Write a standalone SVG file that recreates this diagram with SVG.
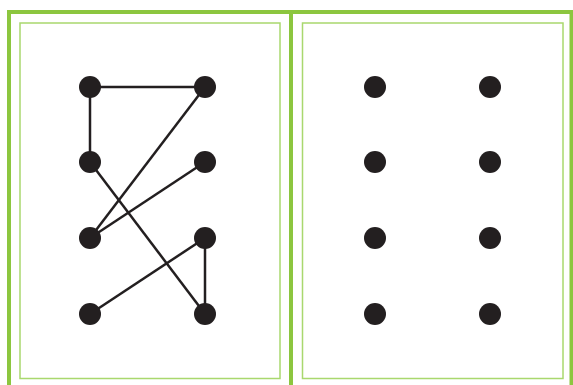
<svg xmlns="http://www.w3.org/2000/svg" width="573" height="385" viewBox="0 0 573 385">
<style>
.frame{fill:none;stroke:#8cc63f;stroke-width:4}
.inner{fill:none;stroke:#a9d86e;stroke-width:1.5}
.dot{fill:#231f20}
.edge{stroke:#231f20;stroke-width:2.5;fill:none}
</style>
<rect x="0" y="0" width="573" height="385" fill="#fff"/>
<g id="frames">
<path class="frame" d="M9 385 V12 H571.5 V385 M291 12 V385"/>
<rect class="inner" x="20" y="23" width="260" height="355.5"/>
<rect class="inner" x="302.5" y="23" width="260.5" height="355.5"/>
</g>
<g id="connectors">
<line class="edge" x1="90" y1="87" x2="205" y2="87"/>
<line class="edge" x1="90" y1="87" x2="90" y2="162"/>
<line class="edge" x1="205" y1="87" x2="90" y2="238"/>
<line class="edge" x1="90" y1="162" x2="205" y2="314"/>
<line class="edge" x1="205" y1="162" x2="90" y2="238"/>
<line class="edge" x1="205" y1="238" x2="90" y2="314"/>
<line class="edge" x1="205" y1="238" x2="205" y2="314"/>
</g>
<g id="left-dots">
<circle id="a1" class="dot" cx="90" cy="87" r="11"/>
<circle id="a2" class="dot" cx="205" cy="87" r="11"/>
<circle id="a3" class="dot" cx="90" cy="162" r="11"/>
<circle id="a4" class="dot" cx="205" cy="162" r="11"/>
<circle id="a5" class="dot" cx="90" cy="238" r="11"/>
<circle id="a6" class="dot" cx="205" cy="238" r="11"/>
<circle id="a7" class="dot" cx="90" cy="314" r="11"/>
<circle id="a8" class="dot" cx="205" cy="314" r="11"/>
</g>
<g id="right-dots">
<circle id="b1" class="dot" cx="375" cy="87" r="11"/>
<circle id="b2" class="dot" cx="490" cy="87" r="11"/>
<circle id="b3" class="dot" cx="375" cy="162" r="11"/>
<circle id="b4" class="dot" cx="490" cy="162" r="11"/>
<circle id="b5" class="dot" cx="375" cy="238" r="11"/>
<circle id="b6" class="dot" cx="490" cy="238" r="11"/>
<circle id="b7" class="dot" cx="375" cy="314" r="11"/>
<circle id="b8" class="dot" cx="490" cy="314" r="11"/>
</g>
</svg>
